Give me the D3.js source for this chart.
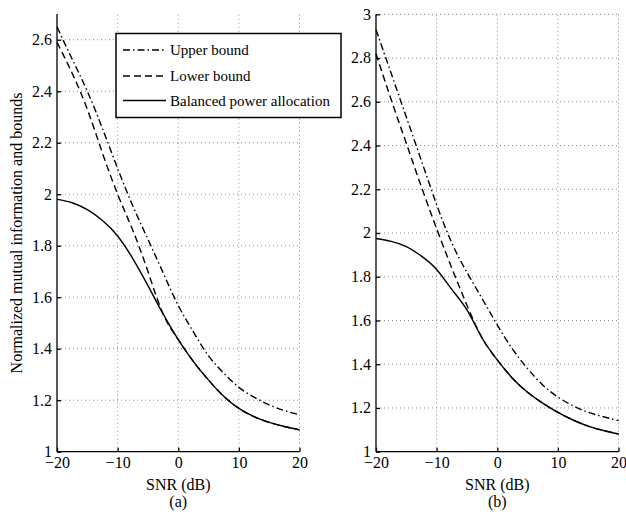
<!DOCTYPE html>
<html>
<head>
<meta charset="utf-8">
<script src="https://cdn.jsdelivr.net/npm/d3@7"></script>
<style>
  body{margin:0;background:#fff;}
  svg{display:block;}
  svg text{fill:#000;}
  .grid line{stroke:#888;stroke-width:1;stroke-dasharray:1,3;}
  .axis path,.axis line{stroke:#000;stroke-width:1.3;}
</style>
</head>
<body>
<svg id="chart" width="626" height="512" font-family="Liberation Serif, Times New Roman, serif"></svg>
<script>
// data
const snr = [-20,-17.5,-15,-12.5,-10,-7.5,-5,-2.5,0,2.5,5,7.5,10,12.5,15,17.5,20];

const upperA    = [2.65,2.525,2.40,2.255,2.10,1.955,1.825,1.695,1.568,1.465,1.372,1.305,1.25,1.212,1.182,1.16,1.143];
const lowerA    = [2.59,2.47,2.33,2.16,2.00,1.86,1.70,1.535,1.435,1.35,1.278,1.215,1.168,1.136,1.114,1.098,1.085];
const balancedA = [1.98,1.967,1.940,1.898,1.838,1.75,1.645,1.535,1.435,1.35,1.278,1.215,1.168,1.136,1.114,1.098,1.085];

const upperB    = [2.93,2.73,2.53,2.33,2.13,1.955,1.82,1.70,1.58,1.47,1.38,1.305,1.25,1.21,1.18,1.16,1.142];
const lowerB    = [2.82,2.61,2.41,2.21,2.02,1.84,1.67,1.52,1.42,1.336,1.272,1.222,1.18,1.145,1.117,1.097,1.081];
const balancedB = [1.975,1.962,1.938,1.894,1.833,1.742,1.648,1.52,1.42,1.336,1.272,1.222,1.18,1.145,1.117,1.097,1.081];

const xTicks  = [-20,-10,0,10,20];
const yTicksA = [1,1.2,1.4,1.6,1.8,2,2.2,2.4,2.6];
const yTicksB = [1,1.2,1.4,1.6,1.8,2,2.2,2.4,2.6,2.8,3];

const seriesNames = ["Upper bound","Lower bound","Balanced power allocation"];
const dashes = ["7,3,1.5,3","7,4",null];

const svg = d3.select("#chart");
const fmt = d3.format("~g");
const serif = "Liberation Serif, Times New Roman, serif";

function panel(x0,x1,yTop,yMax,yTicks,series,caption){
  const x = d3.scaleLinear().domain([-20,20]).range([x0,x1]);
  const y = d3.scaleLinear().domain([1,yMax]).range([451.7,yTop]);
  const g = svg.append("g");

  // dotted grid
  const grid = g.append("g").attr("class","grid");
  grid.selectAll(".gx").data(xTicks.slice(1)).join("line")
    .attr("x1",d=>x(d)).attr("x2",d=>x(d))
    .attr("y1",y(1)).attr("y2",yTop);
  grid.selectAll(".gy").data(yTicks.slice(1)).join("line")
    .attr("x1",x0).attr("x2",x1)
    .attr("y1",d=>y(d)).attr("y2",d=>y(d));

  const line = d3.line().x((d,i)=>x(snr[i])).y(d=>y(d)).curve(d3.curveNatural);
  series.forEach((s,k)=>{
    g.append("path").attr("d",line(s))
      .attr("fill","none").attr("stroke","#000").attr("stroke-width",1.4)
      .attr("stroke-dasharray",dashes[k]);
  });

  g.append("g").attr("class","axis")
    .attr("transform",`translate(0,${y(1)})`)
    .call(d3.axisBottom(x).tickValues(xTicks).tickFormat(fmt).tickSizeInner(-4).tickSizeOuter(0).tickPadding(5))
    .call(a=>a.select(".domain").attr("d",`M${x0},0H${x1}`))
    .attr("font-family",serif).attr("font-size",16);
  g.append("g").attr("class","axis")
    .attr("transform",`translate(${x0},0)`)
    .call(d3.axisLeft(y).tickValues(yTicks).tickFormat(fmt).tickSizeInner(-4).tickSizeOuter(0).tickPadding(5))
    .call(a=>a.select(".domain").attr("d",`M0,${y(1)}V${yTop}`))
    .attr("font-family",serif).attr("font-size",16)
    .call(a=>a.selectAll("text").attr("dy","0.3em"));

  const cx = (x0+x1)/2;
  g.append("text").attr("x",cx).attr("y",490).attr("text-anchor","middle")
    .attr("font-size",16).text("SNR (dB)");
  g.append("text").attr("x",cx).attr("y",507).attr("text-anchor","middle")
    .attr("font-size",16).text(caption);
}

panel(57,299.5,14,2.7,yTicksA,[upperA,lowerA,balancedA],"(a)");
panel(376,618.5,14.3,3,yTicksB,[upperB,lowerB,balancedB],"(b)");

svg.append("text")
  .attr("transform","translate(22,233) rotate(-90)")
  .attr("text-anchor","middle").attr("font-size",16)
  .text("Normalized mutual information and bounds");

// legend
const lg = svg.append("g").attr("transform","translate(116,33.5)");
lg.append("rect").attr("width",225).attr("height",84)
  .attr("fill","#fff").attr("stroke","#000").attr("stroke-width",1.5);
const rows = [16.5,42.5,67];
seriesNames.forEach((n,k)=>{
  lg.append("line").attr("x1",7).attr("x2",50).attr("y1",rows[k]).attr("y2",rows[k])
    .attr("stroke","#000").attr("stroke-width",1.4).attr("stroke-dasharray",dashes[k]);
  lg.append("text").attr("x",54).attr("y",rows[k]+5).attr("font-size",15).text(n);
});
</script>
</body>
</html>
